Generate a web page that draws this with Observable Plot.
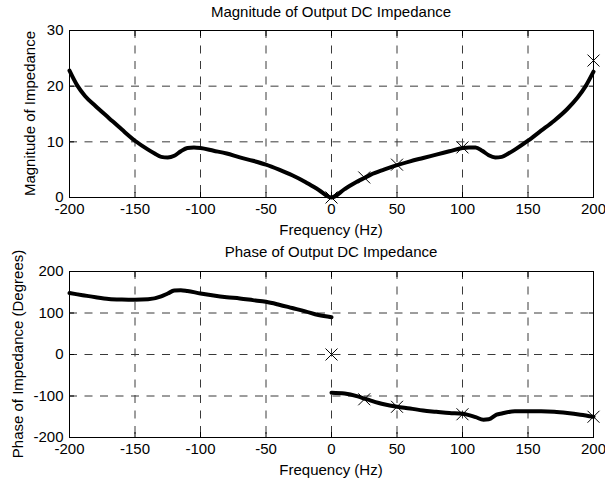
<!DOCTYPE html>
<html>
<head>
<meta charset="utf-8">
<script src="https://cdn.jsdelivr.net/npm/d3@7"></script>
<script src="https://cdn.jsdelivr.net/npm/@observablehq/plot@0.6"></script>
<style>
  html, body { margin: 0; padding: 0; background: #fff; overflow: hidden; }
  #wrap { position: relative; width: 605px; height: 485px; background: #fff; }
  #wrap svg { position: absolute; left: 0; }
</style>
</head>
<body>
<div id="wrap"></div>
<script>
// ---------- data ----------
const xTicks = [-200, -150, -100, -50, 0, 50, 100, 150, 200];
const magTicks = [0, 10, 20, 30];
const phaseTicks = [-200, -100, 0, 100, 200];

const magFreq = [-200, -194, -188, -180, -170, -160, -150, -140, -135, -130, -125, -120, -115, -110, -105, -100,
  -90, -80, -70, -60, -50, -40, -30, -20, -10, 0,
  10, 20, 25, 30, 40, 50, 60, 70, 80, 90, 100, 105, 110, 115, 120, 125, 130, 135, 140,
  150, 160, 170, 180, 188, 194, 200];
const magValue = [22.8, 20.1, 18.2, 16.4, 14.3, 12.2, 10.2, 8.6, 7.9, 7.3, 7.2, 7.5, 8.3, 8.9, 9.0, 8.9,
  8.4, 7.9, 7.2, 6.6, 5.9, 5.0, 4.0, 2.8, 1.4, 0,
  1.5, 2.9, 3.5, 4.1, 5.0, 5.8, 6.5, 7.1, 7.7, 8.3, 8.9, 9.0, 9.0, 8.4, 7.6, 7.2, 7.3, 7.9, 8.6,
  10.2, 12.0, 13.8, 15.9, 18.0, 20.0, 22.6];
const magMarkFreq = [0, 25, 50, 100, 200];
const magMarkValue = [0, 3.6, 5.9, 9.0, 24.6];

const phaseLeftFreq = [-200, -190, -180, -170, -160, -150, -140, -130, -125, -120, -115, -110, -100,
  -90, -80, -70, -60, -50, -40, -30, -20, -10, 0];
const phaseLeftValue = [148, 143, 138, 134, 132.5, 132, 133, 140, 147, 154, 155, 153, 147,
  142, 138, 135, 131, 127, 120, 112, 104, 95, 90];
const phaseRightFreq = [0, 10, 20, 25, 30, 40, 50, 60, 70, 80, 90, 100, 110, 116, 120, 126, 130,
  140, 150, 160, 170, 180, 190, 200];
const phaseRightValue = [-92, -94, -101, -106, -111, -120, -126, -130, -135, -138, -141, -143, -151, -157, -156, -145, -142,
  -137, -137, -137, -138, -141, -145, -150];
const phaseMarkFreq = [0, 25, 50, 100, 200];
const phaseMarkValue = [0, -108, -126, -144, -150];

// ---------- build tables ----------
const magData = magFreq.map((f, i) => ({f, v: magValue[i]}));
const magMarks = magMarkFreq.map((f, i) => ({f, v: magMarkValue[i]}));
const phaseData = [
  ...phaseLeftFreq.map((f, i) => ({f, v: phaseLeftValue[i], seg: "neg"})),
  ...phaseRightFreq.map((f, i) => ({f, v: phaseRightValue[i], seg: "pos"}))
];
const phaseMarks = phaseMarkFreq.map((f, i) => ({f, v: phaseMarkValue[i]}));

const FONT = "'Liberation Sans', Arial, Helvetica, sans-serif";
const fmt = d => String(d);
const gridStyle = {stroke: "#3a3a3a", strokeOpacity: 1, strokeWidth: 1, strokeDasharray: "8,7.5"};

function boxAxes(yTicks) {
  return [
    Plot.gridX(xTicks, gridStyle),
    Plot.gridY(yTicks, gridStyle),
    Plot.axisX(xTicks, {anchor: "bottom", tickSize: 0, tickPadding: 6, tickFormat: fmt, label: null, fill: "black"}),
    Plot.axisY(yTicks, {anchor: "left", tickSize: 0, tickPadding: 6, tickFormat: fmt, label: null, fill: "black"}),
    Plot.axisX(xTicks, {anchor: "bottom", tickSize: -5, fill: "none", stroke: "black", label: null}),
    Plot.axisX(xTicks, {anchor: "top", tickSize: -5, fill: "none", stroke: "black", label: null}),
    Plot.axisY(yTicks, {anchor: "left", tickSize: -5, fill: "none", stroke: "black", label: null}),
    Plot.axisY(yTicks, {anchor: "right", tickSize: -5, fill: "none", stroke: "black", label: null}),
    Plot.frame({stroke: "black", strokeWidth: 1})
  ];
}

const common = {
  width: 605,
  marginLeft: 69,
  marginRight: 12,
  style: {fontFamily: FONT, fontSize: "15px", color: "black", background: "white", overflow: "visible"},
  x: {domain: [-200, 200], label: null}
};

const svg1 = Plot.plot({
  ...common,
  height: 240,
  marginTop: 30,
  marginBottom: 43,
  y: {domain: [0, 30], label: null},
  marks: [
    ...boxAxes(magTicks),
    Plot.line(magData, {x: "f", y: "v", stroke: "black", strokeWidth: 4, strokeLinejoin: "round", curve: "monotone-x"}),
    Plot.dot(magMarks, {x: "f", y: "v", symbol: "times", r: 5.5, stroke: "black", strokeWidth: 1})
  ]
});

const svg2 = Plot.plot({
  ...common,
  height: 245,
  marginTop: 31,
  marginBottom: 48,
  y: {domain: [-200, 200], label: null},
  marks: [
    ...boxAxes(phaseTicks),
    Plot.line(phaseData, {x: "f", y: "v", z: "seg", stroke: "black", strokeWidth: 4, strokeLinejoin: "round", curve: "monotone-x"}),
    Plot.dot(phaseMarks, {x: "f", y: "v", symbol: "times", r: 5.5, stroke: "black", strokeWidth: 1})
  ]
});

function addText(svg, txt, x, y, rotate) {
  return d3.select(svg).append("text")
    .attr("text-anchor", "middle")
    .attr("fill", "black")
    .attr("font-family", FONT)
    .attr("font-size", 15)
    .attr("transform", `translate(${x},${y})` + (rotate ? ` rotate(${rotate})` : ""))
    .text(txt);
}

addText(svg1, "Magnitude of Output DC Impedance", 331, 17);
addText(svg1, "Frequency (Hz)", 331, 234.5);
addText(svg1, "Magnitude of Impedance", 35, 113.5, -90);

addText(svg2, "Phase of Output DC Impedance", 331, 16.7);
addText(svg2, "Frequency (Hz)", 331, 235);
addText(svg2, "Phase of Impedance (Degrees)", 22.7, 114, -90);

svg1.style.top = "0px";
svg2.style.top = "240px";
const wrap = document.getElementById("wrap");
wrap.appendChild(svg1);
wrap.appendChild(svg2);
</script>
</body>
</html>
